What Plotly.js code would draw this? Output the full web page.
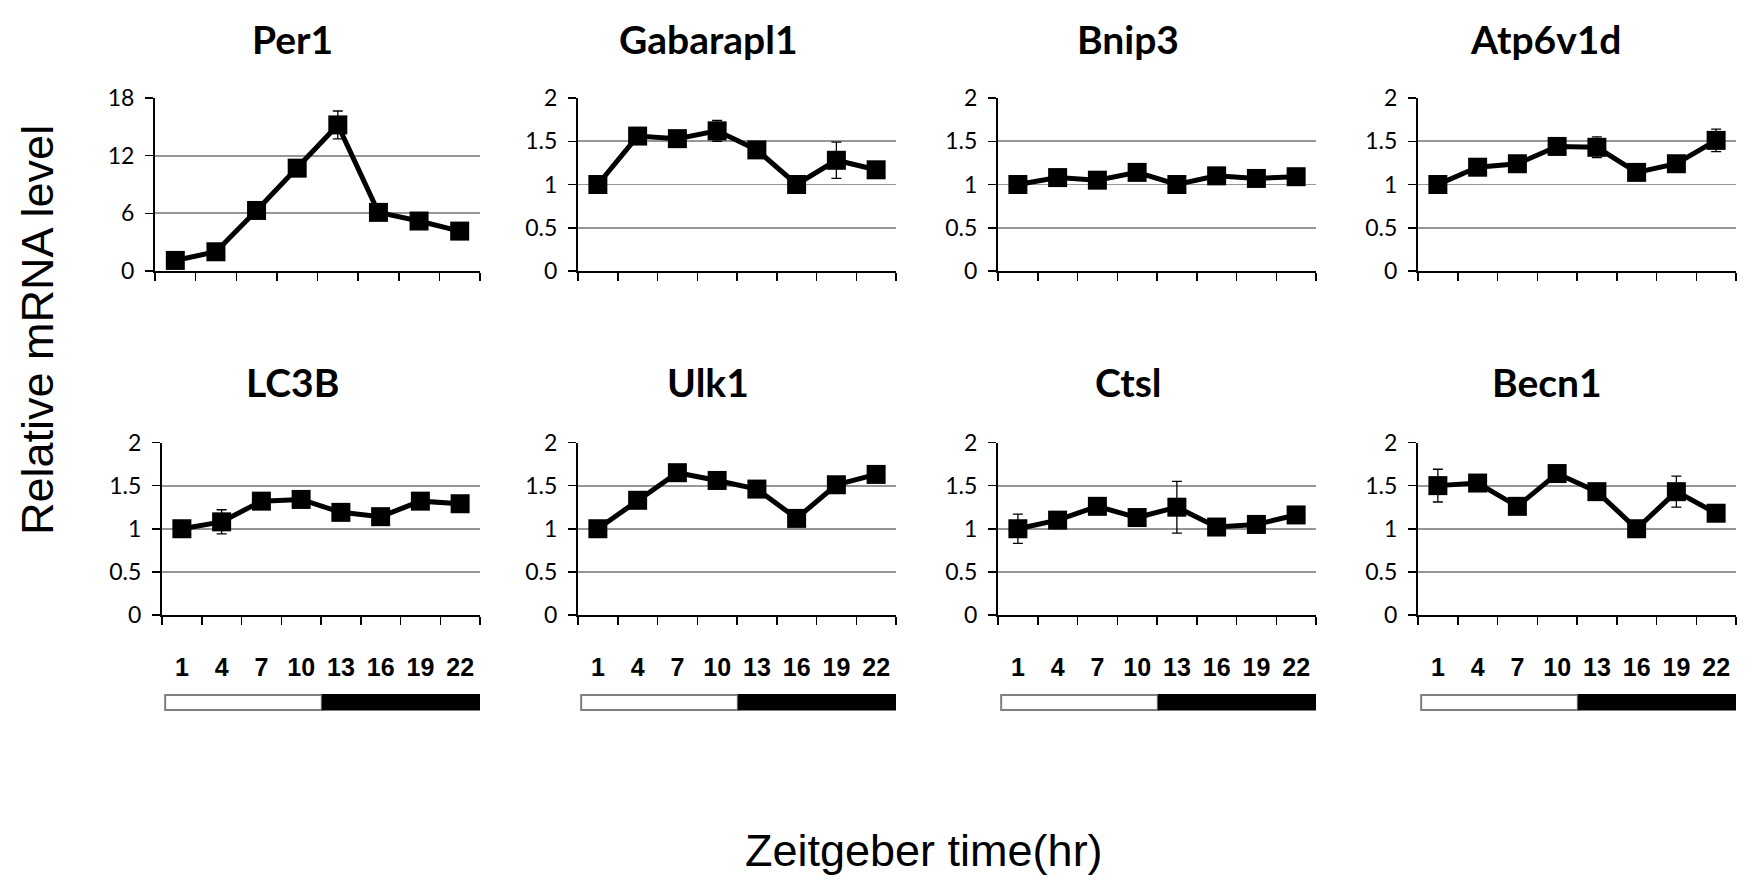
<!DOCTYPE html>
<html>
<head>
<meta charset="utf-8">
<script src="https://cdn.plot.ly/plotly-3.0.1.min.js"></script>
<style>html,body{margin:0;padding:0;background:#fff;}#chart{width:1748px;height:880px;}</style>
</head>
<body>
<div id="chart"></div>
<script>
// ---- data ----
const zt = ['1', '4', '7', '10', '13', '16', '19', '22'];
const genes = ['Per1', 'Gabarapl1', 'Bnip3', 'Atp6v1d', 'LC3B', 'Ulk1', 'Ctsl', 'Becn1'];

const per1      = [1.1, 2.0, 6.3, 10.7, 15.2, 6.1, 5.2, 4.15];
const per1Err   = [0.3, 0.3, 0.4, 0.4, 1.45, 0.4, 0.3, 0.3];
const gabarapl1    = [1.0, 1.56, 1.53, 1.62, 1.40, 1.00, 1.28, 1.17];
const gabarapl1Err = [0.03, 0.04, 0.04, 0.12, 0.04, 0.03, 0.21, 0.04];
const bnip3     = [1.0, 1.08, 1.05, 1.14, 1.0, 1.10, 1.07, 1.09];
const bnip3Err  = [0.03, 0.03, 0.03, 0.04, 0.03, 0.03, 0.03, 0.03];
const atp6v1d    = [1.0, 1.2, 1.24, 1.44, 1.43, 1.14, 1.24, 1.51];
const atp6v1dErr = [0.03, 0.04, 0.04, 0.05, 0.12, 0.07, 0.04, 0.13];
const lc3b      = [1.0, 1.08, 1.32, 1.34, 1.19, 1.14, 1.32, 1.29];
const lc3bErr   = [0.03, 0.14, 0.04, 0.04, 0.04, 0.05, 0.04, 0.04];
const ulk1      = [1.0, 1.33, 1.65, 1.56, 1.46, 1.12, 1.51, 1.63];
const ulk1Err   = [0.03, 0.04, 0.05, 0.04, 0.04, 0.05, 0.04, 0.04];
const ctsl      = [1.0, 1.10, 1.26, 1.13, 1.25, 1.02, 1.05, 1.16];
const ctslErr   = [0.17, 0.04, 0.04, 0.05, 0.30, 0.03, 0.03, 0.04];
const becn1     = [1.5, 1.53, 1.26, 1.64, 1.43, 1.0, 1.43, 1.18];
const becn1Err  = [0.19, 0.04, 0.04, 0.05, 0.04, 0.03, 0.18, 0.04];

const yTitle = 'Relative mRNA level';
const xTitle = 'Zeitgeber time(hr)';

const values = [per1, gabarapl1, bnip3, atp6v1d, lc3b, ulk1, ctsl, becn1];
const errors = [per1Err, gabarapl1Err, bnip3Err, atp6v1dErr, lc3bErr, ulk1Err, ctslErr, becn1Err];
const yMax   = [18, 2, 2, 2, 2, 2, 2, 2];
const yStep  = [6, 0.5, 0.5, 0.5, 0.5, 0.5, 0.5, 0.5];

// ---- layout geometry (pixels) ----
const W = 1748, H = 880;
const xPix = [[155, 480], [578, 896], [998, 1316], [1418, 1736],
              [162, 480], [578, 896], [998, 1316], [1418, 1736]];
const yPixTop = [98, 442.5];
const yPixBot = [271, 615];
const titleX = [292, 708, 1128, 1546, 292, 708, 1128, 1547];
const titleY = [39, 382];

const px = v => v / W;
const py = v => 1 - v / H;

const data = [];
const layout = {
  width: W, height: H,
  margin: {l: 0, r: 0, t: 0, b: 0},
  showlegend: false,
  paper_bgcolor: '#fff', plot_bgcolor: '#fff',
  font: {family: 'Lato, "Open Sans", sans-serif', color: '#000'},
  annotations: [], shapes: []
};

for (let i = 0; i < 8; i++) {
  const row = i < 4 ? 0 : 1;
  const sfx = i === 0 ? '' : String(i + 1);
  data.push({
    type: 'scatter', mode: 'lines+markers',
    x: zt, y: values[i],
    xaxis: 'x' + sfx, yaxis: 'y' + sfx,
    line: {color: '#000', width: 5},
    marker: {symbol: 'square', size: 19, color: '#000'},
    error_y: {type: 'data', array: errors[i], visible: true, color: '#000', thickness: 1.3, width: 5},
    cliponaxis: false, hoverinfo: 'skip'
  });
  layout['xaxis' + sfx] = {
    type: 'category', domain: [px(xPix[i][0]), px(xPix[i][1])],
    anchor: 'y' + sfx, range: [-0.5, 7.5],
    showgrid: false, zeroline: false,
    showline: true, linecolor: '#000', linewidth: 2,
    ticks: 'outside', tickson: 'boundaries', ticklen: 8, tickwidth: 1.5, tickcolor: '#000',
    showticklabels: row === 1,
    tickfont: {family: '"Liberation Sans", Arial, sans-serif', size: 25, color: '#000', weight: 'bold'},
    ticklabelstandoff: 29,
    fixedrange: true
  };
  layout['yaxis' + sfx] = {
    domain: [py(yPixBot[row]), py(yPixTop[row])],
    anchor: 'x' + sfx, range: [0, yMax[i]], dtick: yStep[i], tick0: 0,
    showgrid: true, gridcolor: '#969696', gridwidth: 1.8,
    zeroline: false,
    showline: true, linecolor: '#000', linewidth: 2,
    ticks: 'outside', ticklen: 8, tickwidth: 1.5, tickcolor: '#000',
    tickfont: {family: 'Lato, sans-serif', size: 23, color: '#000'},
    ticklabelstandoff: 6,
    fixedrange: true
  };
  layout.annotations.push({
    xref: 'paper', yref: 'paper', x: px(titleX[i]), y: py(titleY[row]),
    xanchor: 'center', yanchor: 'middle', showarrow: false,
    text: '<b>' + genes[i] + '</b>',
    font: {family: 'Lato, sans-serif', size: 39, color: '#000'}
  });
  if (row === 1) {
    // light / dark bar under the time axis
    layout.shapes.push({
      type: 'rect', xref: 'x' + sfx, yref: 'paper',
      x0: -0.42, x1: 3.52, y0: py(710), y1: py(695),
      fillcolor: '#fff', line: {color: '#7f7f7f', width: 2}
    });
    layout.shapes.push({
      type: 'rect', xref: 'x' + sfx, yref: 'paper',
      x0: 3.52, x1: 7.5, y0: py(710.5), y1: py(694),
      fillcolor: '#000', line: {color: '#000', width: 0}
    });
  }
}

layout.annotations.push({
  xref: 'paper', yref: 'paper', x: px(37), y: py(330),
  xanchor: 'center', yanchor: 'middle', showarrow: false, textangle: -90,
  text: yTitle,
  font: {family: '"Liberation Sans", Arial, sans-serif', size: 45, color: '#000'}
});
layout.annotations.push({
  xref: 'paper', yref: 'paper', x: px(924), y: py(850),
  xanchor: 'center', yanchor: 'middle', showarrow: false,
  text: xTitle,
  font: {family: '"Liberation Sans", Arial, sans-serif', size: 45, color: '#000'}
});

Plotly.newPlot('chart', data, layout, {staticPlot: true, displayModeBar: false});
</script>
</body>
</html>
